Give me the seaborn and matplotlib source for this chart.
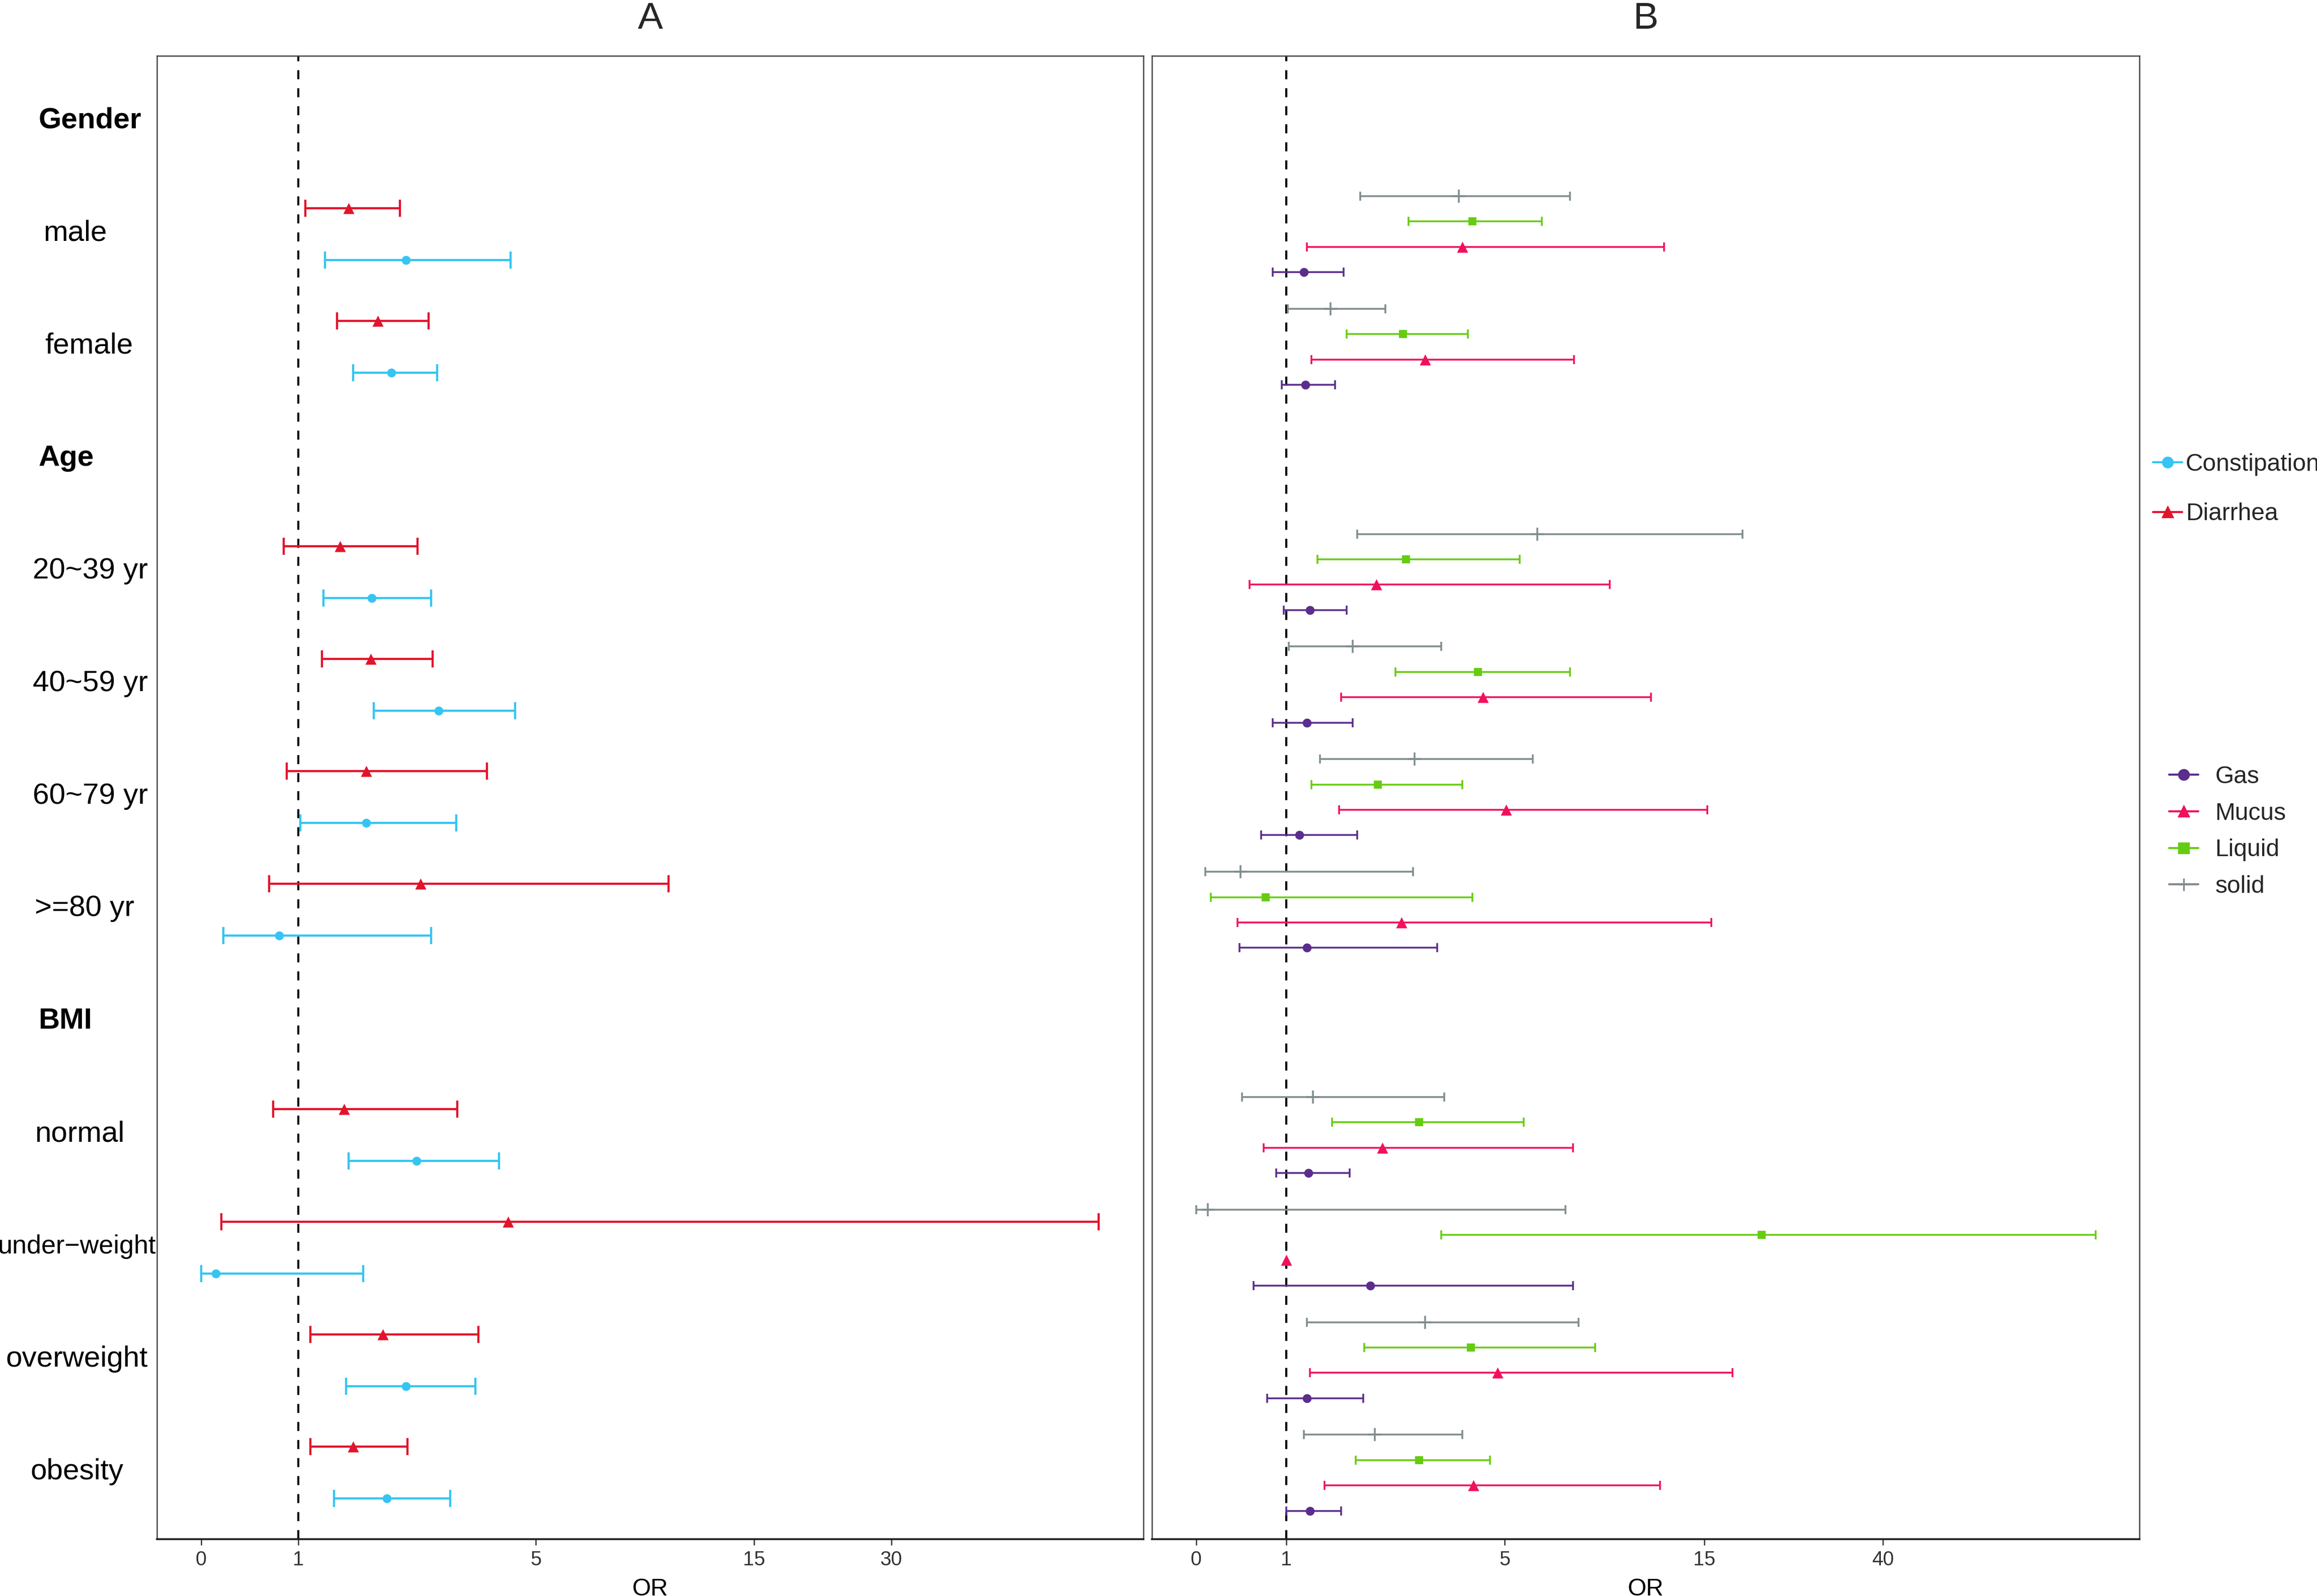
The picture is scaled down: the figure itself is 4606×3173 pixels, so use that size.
import numpy as np
import pandas as pd
import matplotlib
matplotlib.use('Agg')
import matplotlib.pyplot as plt
import seaborn as sns
from matplotlib.lines import Line2D
from matplotlib import transforms

# filas del eje y (encabezados en negrita)
filas = ['Gender', 'male', 'female', 'Age', '20~39 yr', '40~59 yr', '60~79 yr', '>=80 yr',
         'BMI', 'normal', 'under\u2212weight', 'overweight', 'obesity']
encabezados = ['Gender', 'Age', 'BMI']
grupos = [f for f in filas if f not in encabezados]

# Panel A: OR con IC
diarrea_or = [1.85, 2.34, 1.70, 2.22, 2.14, 3.06, 1.77, 4.53, 2.42, 1.92]
diarrea_lo = [1.12, 1.65, 0.85, 1.40, 0.88, 0.70, 0.74, 0.21, 1.20, 1.20]
diarrea_hi = [2.71, 3.19, 3.01, 3.26, 4.18, 11.08, 3.68, 52.7, 4.03, 2.84]
constip_or = [2.81, 2.57, 2.24, 3.36, 2.14, 0.80, 2.99, 0.15, 2.81, 2.49]
constip_lo = [1.45, 1.92, 1.42, 2.27, 1.03, 0.23, 1.85, 0.00, 1.80, 1.60]
constip_hi = [4.58, 3.34, 3.24, 4.65, 3.66, 3.24, 4.38, 2.09, 3.98, 3.56]

# Panel B
gas_or = [1.32, 1.35, 1.43, 1.38, 1.24, 1.38, 1.41, 2.54, 1.38, 1.43]
gas_lo = [0.85, 0.95, 0.97, 0.85, 0.72, 0.48, 0.89, 0.64, 0.79, 1.00]
gas_hi = [2.05, 1.89, 2.11, 2.22, 2.30, 3.76, 2.16, 8.41, 2.41, 2.00]
mucus_or = [4.22, 3.54, 2.65, 4.60, 5.07, 3.11, 2.76, 1.00, 4.87, 4.43]
mucus_lo = [1.38, 1.46, 0.59, 2.00, 1.97, 0.46, 0.75, np.nan, 1.43, 1.70]
mucus_hi = [13.0, 8.48, 10.26, 12.33, 15.41, 16.03, 8.41, np.nan, 18.93, 12.78]
liquid_or = [4.41, 3.14, 3.19, 4.51, 2.68, 0.77, 3.43, 23.06, 4.38, 3.43]
liquid_lo = [3.24, 2.11, 1.57, 3.00, 1.46, 0.16, 1.84, 3.84, 2.43, 2.27]
liquid_hi = [6.85, 4.32, 5.74, 8.26, 4.22, 4.41, 5.96, 69.75, 9.52, 4.73]
solid_or = [4.16, 1.81, 6.63, 2.22, 3.35, 0.49, 1.49, 0.13, 3.54, 2.62]
solid_lo = [2.35, 1.03, 2.30, 1.05, 1.62, 0.10, 0.51, 0.00, 1.38, 1.32]
solid_hi = [8.26, 2.81, 20.37, 3.84, 6.41, 3.32, 3.89, 8.04, 8.70, 4.22]

# cortes del eje x
ticks_A = [0, 1, 5, 15, 30]
ticks_B = [0, 1, 5, 15, 40]
nudos_A = [-1, 0, 2.439, 4.682, 6.091]
nudos_B = [-1, 0, 2.426, 4.639, 6.623]


def escala(t, k):
    t = np.array(t, float)
    k = np.array(k, float)
    def interp(x, a, b):
        x = np.asarray(x, float)
        y = np.interp(x, a, b)
        y = np.where(x < a[0], b[0] + (x - a[0]) * (b[1] - b[0]) / (a[1] - a[0]), y)
        y = np.where(x > a[-1], b[-1] + (x - a[-1]) * (b[-1] - b[-2]) / (a[-1] - a[-2]), y)
        return y
    return (lambda x: interp(x, t, k)), (lambda x: interp(x, k, t))


def armar(series, offsets):
    partes = []
    for (nombre, o, lo, hi), off in zip(series, offsets):
        d = pd.DataFrame({'grupo': grupos, 'serie': nombre, 'OR': o, 'lo': lo, 'hi': hi})
        d['y'] = [filas.index(g) + 0.03 + off for g in grupos]
        partes.append(d)
    return pd.concat(partes, ignore_index=True)


datos_A = armar([('Diarrhea', diarrea_or, diarrea_lo, diarrea_hi),
                 ('Constipation', constip_or, constip_lo, constip_hi)], [-0.23, 0.23])
datos_B = armar([('solid', solid_or, solid_lo, solid_hi),
                 ('Liquid', liquid_or, liquid_lo, liquid_hi),
                 ('Mucus', mucus_or, mucus_lo, mucus_hi),
                 ('Gas', gas_or, gas_lo, gas_hi)], [-0.3375, -0.1125, 0.1125, 0.3375])

colores = {'Constipation': '#35C5F2', 'Diarrhea': '#E2142B', 'Gas': '#5B2D8C',
           'Mucus': '#F2105E', 'Liquid': '#66CC11', 'solid': '#808C8E'}
marcadores = {'Constipation': 'o', 'Diarrhea': '^', 'Gas': 'o', 'Mucus': '^', 'Liquid': 's', 'solid': '+'}
tamanos = {'Constipation': 18, 'Diarrhea': 28, 'Gas': 18, 'Mucus': 28, 'Liquid': 15, 'solid': 40}

sns.set_theme(style='white')
plt.rcParams['font.family'] = ['Liberation Sans', 'DejaVu Sans']

fig = plt.figure(figsize=(4606 / 300, 3173 / 300), dpi=300)
axA = fig.add_axes([0.0677, 0.0356, 0.4258, 0.9294])
axB = fig.add_axes([0.4972, 0.0356, 0.4262, 0.9294])

for ax, datos, tk, nd, lim, lw, cap, titulo in [
        (axA, datos_A, ticks_A, nudos_A, (-0.4545, 57.6), 1.05, 4.0, 'A'),
        (axB, datos_B, ticks_B, nudos_B, (-0.49, 75.9), 0.85, 2.1, 'B')]:
    ax.set_xscale('function', functions=escala(tk, nd))
    ax.axvline(1, color='black', lw=1.0, linestyle=(0, (4.3, 4.3)), zorder=1)
    for nombre, sub in datos.groupby('serie', sort=False):
        c = colores[nombre]
        ok = sub.dropna(subset=['lo', 'hi'])
        ax.errorbar(ok['OR'], ok['y'], xerr=[ok['OR'] - ok['lo'], ok['hi'] - ok['OR']],
                    fmt='none', ecolor=c, elinewidth=lw, capsize=cap, capthick=lw, zorder=2)
        if marcadores[nombre] == '+':
            sns.scatterplot(data=sub, x='OR', y='y', marker='+', color=c, s=tamanos[nombre],
                            linewidth=0.85, ax=ax, legend=False, zorder=3)
        else:
            sns.scatterplot(data=sub, x='OR', y='y', marker=marcadores[nombre], color=c,
                            s=tamanos[nombre], linewidth=0, ax=ax, legend=False, zorder=3)
    ax.set_xlim(*lim)
    ax.set_ylim(12.62, -0.554)
    ax.set_xticks(tk)
    ax.set_xticklabels([str(t) for t in tk])
    ax.set_yticks([])
    ax.set_ylabel('')
    ax.set_xlabel('OR', fontsize=11.5, labelpad=4, color='black')
    ax.set_title(titulo, fontsize=18, pad=13)
    ax.tick_params(axis='x', bottom=True, length=2.8, width=0.6, color='#333333',
                   labelsize=9.5, labelcolor='#333333', pad=2.5)
    for s in ['left', 'right', 'top']:
        ax.spines[s].set_color('#444444')
        ax.spines[s].set_linewidth(0.6)
    ax.spines['bottom'].set_color('#222222')
    ax.spines['bottom'].set_linewidth(0.9)

# etiquetas del eje y del panel A (centro x en fraccion de figura)
centros = [0.0166, 0.0325, 0.0383, 0.0166, 0.0389, 0.0389, 0.0389, 0.0365,
           0.0166, 0.0344, 0.0332, 0.0332, 0.0332]
tr = transforms.blended_transform_factory(fig.transFigure, axA.transData)
for i, (f, cx) in enumerate(zip(filas, centros)):
    if f in encabezados:
        axA.text(cx, i + 0.02, f, transform=tr, ha='left', va='center', fontsize=14,
                 fontweight='bold', color='black')
    else:
        axA.text(cx, i + 0.02, f, transform=tr, ha='center', va='center',
                 fontsize=12.5 if 'under' in f else 14, color='black')

# leyendas
def manija(n):
    return Line2D([0], [0], color=colores[n], marker=marcadores[n], lw=1.0,
                  markersize=6 if marcadores[n] == '+' else 4.8, markeredgewidth=0.8)

ley1 = fig.legend([manija(n) for n in ['Constipation', 'Diarrhea']], ['Constipation', 'Diarrhea'],
                  loc='center left', bbox_to_anchor=(0.9292, 0.6935), frameon=False,
                  fontsize=11.5, labelspacing=1.12, handlelength=1.21, handletextpad=0.15,
                  borderpad=0, borderaxespad=0)
ley2 = fig.legend([manija(n) for n in ['Gas', 'Mucus', 'Liquid', 'solid']], ['Gas', 'Mucus', 'Liquid', 'solid'],
                  loc='center left', bbox_to_anchor=(0.9362, 0.4789), frameon=False,
                  fontsize=11.5, labelspacing=0.58, handlelength=1.21, handletextpad=0.69,
                  borderpad=0, borderaxespad=0)

fig.savefig('out.png', dpi=300)
